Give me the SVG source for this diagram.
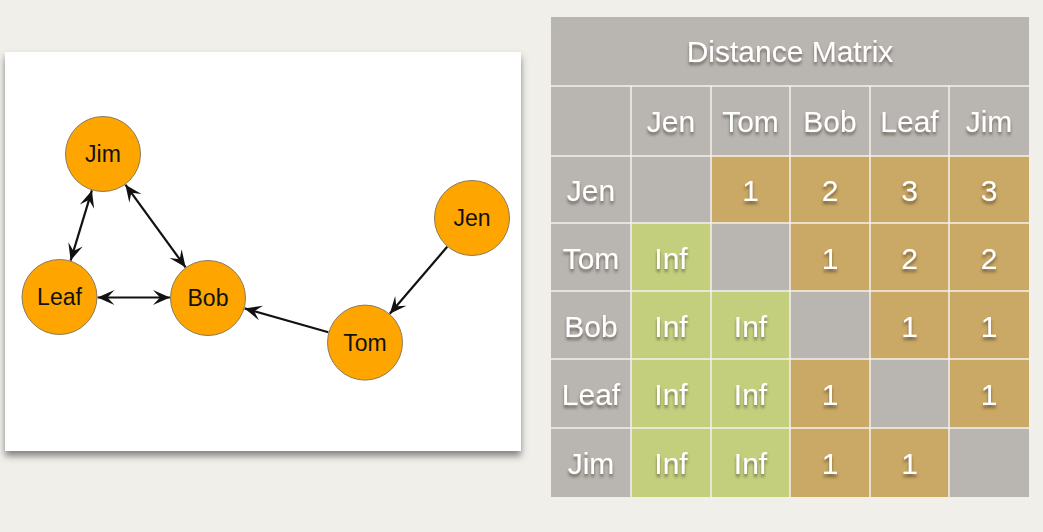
<svg xmlns="http://www.w3.org/2000/svg" width="1043" height="532" viewBox="0 0 1043 532">
<style>
.node circle{fill:#ffa500;stroke:#8a7a5a;stroke-width:1}
.node text{font-family:"Liberation Sans",Arial,sans-serif;font-size:23px;fill:#111;text-anchor:middle}
.edge{stroke:#111;stroke-width:2.2;fill:none}
.g{fill:#b9b5b1}
.t{fill:#caa865}
.v{fill:#c4cf7e}
.tx{font-family:"Liberation Sans",Arial,sans-serif;font-size:30px;fill:#fff;text-anchor:middle;filter:url(#ts)}
.grid line{stroke:#f4f2ee;stroke-width:1.5}
</style>
<defs>
<marker id="vee" viewBox="-18 -9 19 18" refX="0" refY="0" markerWidth="19" markerHeight="18" markerUnits="userSpaceOnUse" orient="auto-start-reverse">
<path d="M0,0 L-17,-7.5 L-10,0 L-17,7.5 Z" fill="#111"/>
</marker>
<filter id="ts" x="-20%" y="-20%" width="140%" height="160%">
<feDropShadow dx="0" dy="3" stdDeviation="1.8" flood-color="#3a3328" flood-opacity="0.6"/>
</filter>
<filter id="cs" x="-5%" y="-5%" width="110%" height="115%">
<feDropShadow dx="0" dy="5" stdDeviation="3.5" flood-color="#555" flood-opacity="0.7"/>
</filter>
</defs>
<rect x="0" y="0" width="1043" height="532" fill="#f1efea"/>

<g id="card">
<rect x="5" y="52" width="516" height="399" fill="#ffffff" filter="url(#cs)"/>
</g>

<g id="connectors">
<line class="edge" x1="91.9" y1="190.4" x2="70.6" y2="260.6" marker-start="url(#vee)" marker-end="url(#vee)"/>
<line class="edge" x1="125.4" y1="184.7" x2="185.6" y2="267.3" marker-start="url(#vee)" marker-end="url(#vee)"/>
<line class="edge" x1="97.5" y1="297.5" x2="170" y2="297.5" marker-start="url(#vee)" marker-end="url(#vee)"/>
<line class="edge" x1="447.2" y1="246.8" x2="389.8" y2="313.8" marker-end="url(#vee)"/>
<line class="edge" x1="328.4" y1="332.2" x2="244.6" y2="308.4" marker-end="url(#vee)"/>
</g>

<g id="node-jim" class="node"><circle cx="103" cy="154" r="37.5"/><text x="103" y="162">Jim</text></g>
<g id="node-leaf" class="node"><circle cx="59.5" cy="297" r="37.5"/><text x="59.5" y="305">Leaf</text></g>
<g id="node-bob" class="node"><circle cx="208" cy="298" r="37.5"/><text x="208" y="306">Bob</text></g>
<g id="node-tom" class="node"><circle cx="365" cy="342.6" r="37.5"/><text x="365" y="350.6">Tom</text></g>
<g id="node-jen" class="node"><circle cx="472" cy="218" r="37.5"/><text x="472" y="226">Jen</text></g>

<g id="matrix">
<rect class="g" x="551" y="17" width="478" height="480"/>
<rect class="t" x="711" y="156" width="318" height="67"/>
<rect class="v" x="631" y="223" width="80" height="68"/>
<rect class="t" x="790" y="223" width="239" height="68"/>
<rect class="v" x="631" y="291" width="159" height="68"/>
<rect class="t" x="870" y="291" width="159" height="68"/>
<rect class="v" x="631" y="359" width="159" height="69"/>
<rect class="t" x="790" y="359" width="80" height="69"/>
<rect class="t" x="949" y="359" width="80" height="69"/>
<rect class="v" x="631" y="428" width="159" height="69"/>
<rect class="t" x="790" y="428" width="159" height="69"/>

<g class="grid">
<line x1="551" y1="86" x2="1029" y2="86"/>
<line x1="551" y1="156" x2="1029" y2="156"/>
<line x1="551" y1="223" x2="1029" y2="223"/>
<line x1="551" y1="291" x2="1029" y2="291"/>
<line x1="551" y1="359" x2="1029" y2="359"/>
<line x1="551" y1="428" x2="1029" y2="428"/>
<line x1="631" y1="86" x2="631" y2="497"/>
<line x1="711" y1="86" x2="711" y2="497"/>
<line x1="790" y1="86" x2="790" y2="497"/>
<line x1="870" y1="86" x2="870" y2="497"/>
<line x1="949" y1="86" x2="949" y2="497"/>
</g>

<text class="tx" x="790" y="62">Distance Matrix</text>
<text class="tx" x="671" y="132">Jen</text>
<text class="tx" x="750.5" y="132">Tom</text>
<text class="tx" x="830" y="132">Bob</text>
<text class="tx" x="909.5" y="132">Leaf</text>
<text class="tx" x="989" y="132">Jim</text>

<text class="tx" x="591" y="201">Jen</text>
<text class="tx" x="750.5" y="201">1</text>
<text class="tx" x="830" y="201">2</text>
<text class="tx" x="909.5" y="201">3</text>
<text class="tx" x="989" y="201">3</text>

<text class="tx" x="591" y="269">Tom</text>
<text class="tx" x="671" y="269">Inf</text>
<text class="tx" x="830" y="269">1</text>
<text class="tx" x="909.5" y="269">2</text>
<text class="tx" x="989" y="269">2</text>

<text class="tx" x="591" y="337">Bob</text>
<text class="tx" x="671" y="337">Inf</text>
<text class="tx" x="750.5" y="337">Inf</text>
<text class="tx" x="909.5" y="337">1</text>
<text class="tx" x="989" y="337">1</text>

<text class="tx" x="591" y="405">Leaf</text>
<text class="tx" x="671" y="405">Inf</text>
<text class="tx" x="750.5" y="405">Inf</text>
<text class="tx" x="830" y="405">1</text>
<text class="tx" x="989" y="405">1</text>

<text class="tx" x="591" y="474">Jim</text>
<text class="tx" x="671" y="474">Inf</text>
<text class="tx" x="750.5" y="474">Inf</text>
<text class="tx" x="830" y="474">1</text>
<text class="tx" x="909.5" y="474">1</text>
</g>
</svg>
